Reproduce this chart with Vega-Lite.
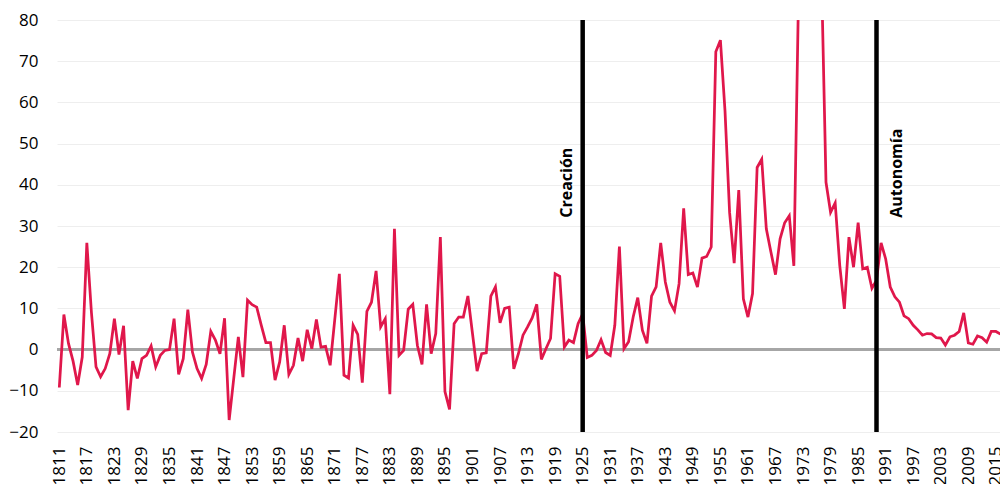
{
  "$schema": "https://vega.github.io/schema/vega-lite/v6.json",
  "autosize": "none",
  "width": 943,
  "height": 412,
  "padding": {"left": 57, "top": 20, "right": 0, "bottom": 52},
  "background": "white",
  "config": {
    "view": {"stroke": null},
    "font": "Open Sans",
    "axis": {"labelOverlap": false, "labelSeparation": 0},
    "axisX": {"labelOverlap": false, "labelSeparation": 0},
    "axisQuantitative": {"labelOverlap": false, "tickCount": 40}
  },
  "datasets": {
    "serie": [
      {"year":1811,"value":-9.2},{"year":1812,"value":8.5},{"year":1813,"value":1.5},{"year":1814,"value":-2.8},{"year":1815,"value":-8.6},{"year":1816,"value":-1.8},{"year":1817,"value":25.9},{"year":1818,"value":9},{"year":1819,"value":-4.2},{"year":1820,"value":-6.6},
      {"year":1821,"value":-4.6},{"year":1822,"value":-1},{"year":1823,"value":7.5},{"year":1824,"value":-1.2},{"year":1825,"value":5.8},{"year":1826,"value":-14.7},{"year":1827,"value":-2.8},{"year":1828,"value":-7},{"year":1829,"value":-2.2},{"year":1830,"value":-1.4},
      {"year":1831,"value":0.9},{"year":1832,"value":-4.2},{"year":1833,"value":-1.4},{"year":1834,"value":-0.2},{"year":1835,"value":0},{"year":1836,"value":7.5},{"year":1837,"value":-6},{"year":1838,"value":-2.2},{"year":1839,"value":9.7},{"year":1840,"value":-0.6},
      {"year":1841,"value":-4.6},{"year":1842,"value":-7},{"year":1843,"value":-3.6},{"year":1844,"value":4.4},{"year":1845,"value":2.3},{"year":1846,"value":-1},{"year":1847,"value":7.6},{"year":1848,"value":-17.1},{"year":1849,"value":-7},{"year":1850,"value":3.1},
      {"year":1851,"value":-6.7},{"year":1852,"value":12},{"year":1853,"value":10.9},{"year":1854,"value":10.3},{"year":1855,"value":5.9},{"year":1856,"value":1.7},{"year":1857,"value":1.7},{"year":1858,"value":-7.4},{"year":1859,"value":-3},{"year":1860,"value":5.9},
      {"year":1861,"value":-6},{"year":1862,"value":-3.8},{"year":1863,"value":2.8},{"year":1864,"value":-2.8},{"year":1865,"value":4.8},{"year":1866,"value":0.2},{"year":1867,"value":7.3},{"year":1868,"value":0.6},{"year":1869,"value":0.8},{"year":1870,"value":-3.8},
      {"year":1871,"value":7.3},{"year":1872,"value":18.4},{"year":1873,"value":-6.2},{"year":1874,"value":-6.9},{"year":1875,"value":5.9},{"year":1876,"value":3.7},{"year":1877,"value":-8},{"year":1878,"value":9.3},{"year":1879,"value":11.5},{"year":1880,"value":19.1},
      {"year":1881,"value":5.5},{"year":1882,"value":7.5},{"year":1883,"value":-10.8},{"year":1884,"value":29.3},{"year":1885,"value":-1.4},{"year":1886,"value":-0.2},{"year":1887,"value":9.8},{"year":1888,"value":11},{"year":1889,"value":1},{"year":1890,"value":-3.6},
      {"year":1891,"value":11},{"year":1892,"value":-1},{"year":1893,"value":3.9},{"year":1894,"value":27.3},{"year":1895,"value":-10.2},{"year":1896,"value":-14.5},{"year":1897,"value":6.3},{"year":1898,"value":7.9},{"year":1899,"value":7.9},{"year":1900,"value":13},
      {"year":1901,"value":3.9},{"year":1902,"value":-5.2},{"year":1903,"value":-1},{"year":1904,"value":-0.8},{"year":1905,"value":13},{"year":1906,"value":15.2},{"year":1907,"value":6.5},{"year":1908,"value":10},{"year":1909,"value":10.3},{"year":1910,"value":-4.7},
      {"year":1911,"value":-1},{"year":1912,"value":3.5},{"year":1913,"value":5.5},{"year":1914,"value":7.7},{"year":1915,"value":11},{"year":1916,"value":-2.4},{"year":1917,"value":0.2},{"year":1918,"value":2.7},{"year":1919,"value":18.4},{"year":1920,"value":17.8},
      {"year":1921,"value":0.6},{"year":1922,"value":2.3},{"year":1923,"value":1.7},{"year":1924,"value":6.3},{"year":1925,"value":8.7},{"year":1926,"value":-1.9},{"year":1927,"value":-1.4},{"year":1928,"value":-0.2},{"year":1929,"value":2.4},{"year":1930,"value":-0.7},
      {"year":1931,"value":-1.4},{"year":1932,"value":5.9},{"year":1933,"value":25},{"year":1934,"value":0.2},{"year":1935,"value":1.9},{"year":1936,"value":7.9},{"year":1937,"value":12.6},{"year":1938,"value":4.7},{"year":1939,"value":1.5},{"year":1940,"value":13},
      {"year":1941,"value":15.2},{"year":1942,"value":25.9},{"year":1943,"value":16.4},{"year":1944,"value":11.5},{"year":1945,"value":9.4},{"year":1946,"value":16},{"year":1947,"value":34.3},{"year":1948,"value":18.2},{"year":1949,"value":18.6},{"year":1950,"value":15.2},
      {"year":1951,"value":22.2},{"year":1952,"value":22.6},{"year":1953,"value":24.9},{"year":1954,"value":72.3},{"year":1955,"value":75.1},{"year":1956,"value":58},{"year":1957,"value":33.3},{"year":1958,"value":21},{"year":1959,"value":38.7},{"year":1960,"value":12.3},
      {"year":1961,"value":7.9},{"year":1962,"value":13.6},{"year":1963,"value":44.2},{"year":1964,"value":46.2},{"year":1965,"value":29.3},{"year":1966,"value":23.7},{"year":1967,"value":18.2},{"year":1968,"value":26.9},{"year":1969,"value":30.8},{"year":1970,"value":32.5},
      {"year":1971,"value":20.3},{"year":1972,"value":85},{"year":1973,"value":350},{"year":1974,"value":500},{"year":1975,"value":375},{"year":1976,"value":212},{"year":1977,"value":92},{"year":1978,"value":40.6},{"year":1979,"value":33.3},{"year":1980,"value":35.6},
      {"year":1981,"value":20.4},{"year":1982,"value":9.9},{"year":1983,"value":27.3},{"year":1984,"value":20},{"year":1985,"value":30.8},{"year":1986,"value":19.6},{"year":1987,"value":20},{"year":1988,"value":14.9},{"year":1989,"value":16.8},{"year":1990,"value":25.9},
      {"year":1991,"value":22},{"year":1992,"value":15.2},{"year":1993,"value":12.8},{"year":1994,"value":11.5},{"year":1995,"value":8.2},{"year":1996,"value":7.5},{"year":1997,"value":5.9},{"year":1998,"value":4.8},{"year":1999,"value":3.5},{"year":2000,"value":3.9},
      {"year":2001,"value":3.8},{"year":2002,"value":2.9},{"year":2003,"value":2.8},{"year":2004,"value":1.1},{"year":2005,"value":3.1},{"year":2006,"value":3.5},{"year":2007,"value":4.4},{"year":2008,"value":8.9},{"year":2009,"value":1.6},{"year":2010,"value":1.3},
      {"year":2011,"value":3.3},{"year":2012,"value":2.9},{"year":2013,"value":1.8},{"year":2014,"value":4.4},{"year":2015,"value":4.4},{"year":2016,"value":3.8}
    ],
    "eventos": [
      {"year": 1925, "label": "Creación"},
      {"year": 1989, "label": "Autonomía"}
    ]
  },
  "layer": [
    {
      "data": {"values": [{"zero": 0}]},
      "mark": {"type": "rule", "color": "#a6a6a6", "strokeWidth": 3},
      "encoding": {
        "y": {
          "field": "zero", "type": "quantitative",
          "scale": {"domain": [-20, 80], "nice": false, "zero": false},
          "axis": {
            "title": null,
            "values": [-20,-10,0,10,20,30,40,50,60,70,80],
            "format": "d",
            "labelPadding": 19,
            "labelFont": "Open Sans",
            "labelFontSize": 17,
            "labelColor": "#000000",
            "labelOverlap": false,
            "labelFlush": false,
            "labelBound": false,
            "domain": false,
            "ticks": false,
            "grid": true,
            "gridColor": "#eeeeee",
            "gridWidth": 1
          }
        }
      }
    },
    {
      "data": {"name": "serie"},
      "mark": {"type": "line", "color": "#E0174B", "strokeWidth": 2.75, "clip": true},
      "encoding": {
        "x": {
          "field": "year", "type": "quantitative",
          "scale": {"domain": [1810.5, 2015.9], "nice": false, "zero": false},
          "axis": {
            "title": null,
            "values": [1811,1817,1823,1829,1835,1841,1847,1853,1859,1865,1871,1877,1883,1889,1895,1901,1907,1913,1919,1925,1931,1937,1943,1949,1955,1961,1967,1973,1979,1985,1991,1997,2003,2009,2015],
            "format": "d",
            "labelAngle": -90,
            "labelAlign": "right",
            "labelBaseline": "middle",
            "labelPadding": 14,
            "labelFont": "Open Sans",
            "labelFontSize": 17,
            "labelColor": "#000000",
            "labelOverlap": false,
            "labelSeparation": 0,
            "labelFlush": false,
            "labelBound": false,
            "domain": false,
            "ticks": false,
            "grid": false
          }
        },
        "y": {"field": "value", "type": "quantitative"}
      }
    },
    {
      "data": {"name": "eventos"},
      "mark": {"type": "rule", "color": "#000000", "strokeWidth": 4.5},
      "encoding": {
        "x": {"field": "year", "type": "quantitative"},
        "y": {"datum": -20},
        "y2": {"datum": 80}
      }
    },
    {
      "data": {"values": [{"year": 1925, "pos": 32, "label": "Creación"}]},
      "mark": {"type": "text", "angle": 270, "align": "left", "baseline": "alphabetic", "dy": -11, "font": "Open Sans", "fontSize": 16, "fontWeight": "bold", "color": "#000000"},
      "encoding": {
        "x": {"field": "year", "type": "quantitative"},
        "y": {"field": "pos", "type": "quantitative"},
        "text": {"field": "label"}
      }
    },
    {
      "data": {"values": [{"year": 1989, "pos": 32, "label": "Autonomía"}]},
      "mark": {"type": "text", "angle": 270, "align": "left", "baseline": "alphabetic", "dy": 25, "font": "Open Sans", "fontSize": 16, "fontWeight": "bold", "color": "#000000"},
      "encoding": {
        "x": {"field": "year", "type": "quantitative"},
        "y": {"field": "pos", "type": "quantitative"},
        "text": {"field": "label"}
      }
    }
  ]
}
